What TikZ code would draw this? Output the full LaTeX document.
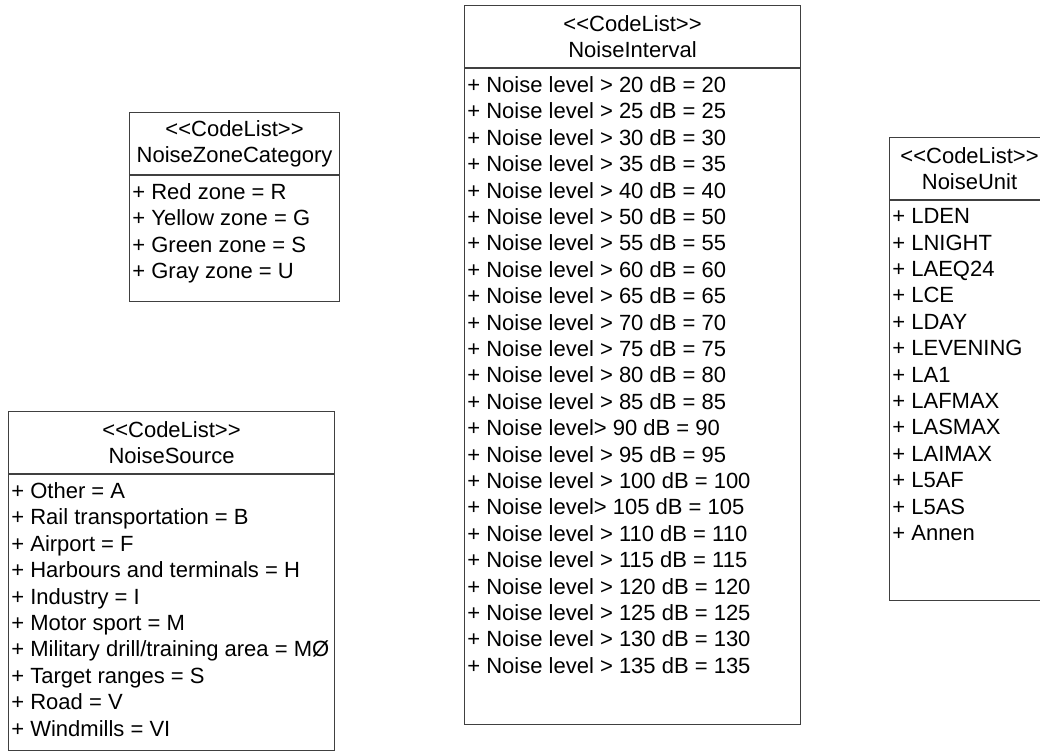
\documentclass[tikz,border=0pt]{standalone}
\usepackage{fontspec}
\setmainfont{Liberation Sans}
\usetikzlibrary{positioning}
\begin{document}
\begin{tikzpicture}[x=0.5pt, y=-0.5pt,
    boxline/.style={draw=black!75, line width=0.55pt},
    classhead/.style={boxline, anchor=north west, minimum height=31pt, inner sep=0pt, align=center,
      font=\fontsize{11pt}{13.2pt}\selectfont},
    classbody/.style={boxline, anchor=north west, inner sep=0pt},
    members/.style={anchor=north west, inner xsep=1.5pt, inner ysep=4pt, align=left,
      font=\fontsize{11pt}{13.2pt}\selectfont}]
  \useasboundingbox (0,0) rectangle (1040,753);

  % NoiseZoneCategory
  \node[classhead, minimum width=105pt] at (129, 112) (zoneHead) {<{}<CodeList>{}>\\NoiseZoneCategory};
  \node[classbody, minimum width=105pt, minimum height=63pt] at (zoneHead.south west) (zoneBody) {};
  \node[members] at (zoneBody.north west) (zoneItems) {+ Red zone = R\\+ Yellow zone = G\\+ Green zone = S\\+ Gray zone = U};

  % NoiseSource
  \node[classhead, minimum width=163pt] at (8, 411) (sourceHead) {<{}<CodeList>{}>\\NoiseSource};
  \node[classbody, minimum width=163pt, minimum height=138pt] at (sourceHead.south west) (sourceBody) {};
  \node[members] at (sourceBody.north west) (sourceItems) {+ Other = A\\+ Rail transportation = B\\+ Airport = F\\+ Harbours and terminals = H\\+ Industry = I\\+ Motor sport = M\\+ Military drill/training area = MØ\\+ Target ranges = S\\+ Road = V\\+ Windmills = VI};

  % NoiseInterval
  \node[classhead, minimum width=168pt] at (464, 5) (intervalHead) {<{}<CodeList>{}>\\NoiseInterval};
  \node[classbody, minimum width=168pt, minimum height=328pt] at (intervalHead.south west) (intervalBody) {};
  \node[members] at (intervalBody.north west) (intervalItems) {+ Noise level > 20 dB = 20\\+ Noise level > 25 dB = 25\\+ Noise level > 30 dB = 30\\+ Noise level > 35 dB = 35\\+ Noise level > 40 dB = 40\\+ Noise level > 50 dB = 50\\+ Noise level > 55 dB = 55\\+ Noise level > 60 dB = 60\\+ Noise level > 65 dB = 65\\+ Noise level > 70 dB = 70\\+ Noise level > 75 dB = 75\\+ Noise level > 80 dB = 80\\+ Noise level > 85 dB = 85\\+ Noise level> 90 dB = 90\\+ Noise level > 95 dB = 95\\+ Noise level > 100 dB = 100\\+ Noise level> 105 dB = 105\\+ Noise level > 110 dB = 110\\+ Noise level > 115 dB = 115\\+ Noise level > 120 dB = 120\\+ Noise level > 125 dB = 125\\+ Noise level > 130 dB = 130\\+ Noise level > 135 dB = 135};

  % NoiseUnit
  \node[classhead, minimum width=80pt] at (889, 137) (unitHead) {<{}<CodeList>{}>\\NoiseUnit};
  \node[classbody, minimum width=80pt, minimum height=200pt] at (unitHead.south west) (unitBody) {};
  \node[members] at (unitBody.north west) (unitItems) {+ LDEN\\+ LNIGHT\\+ LAEQ24\\+ LCE\\+ LDAY\\+ LEVENING\\+ LA1\\+ LAFMAX\\+ LASMAX\\+ LAIMAX\\+ L5AF\\+ L5AS\\+ Annen};
\end{tikzpicture}
\end{document}
